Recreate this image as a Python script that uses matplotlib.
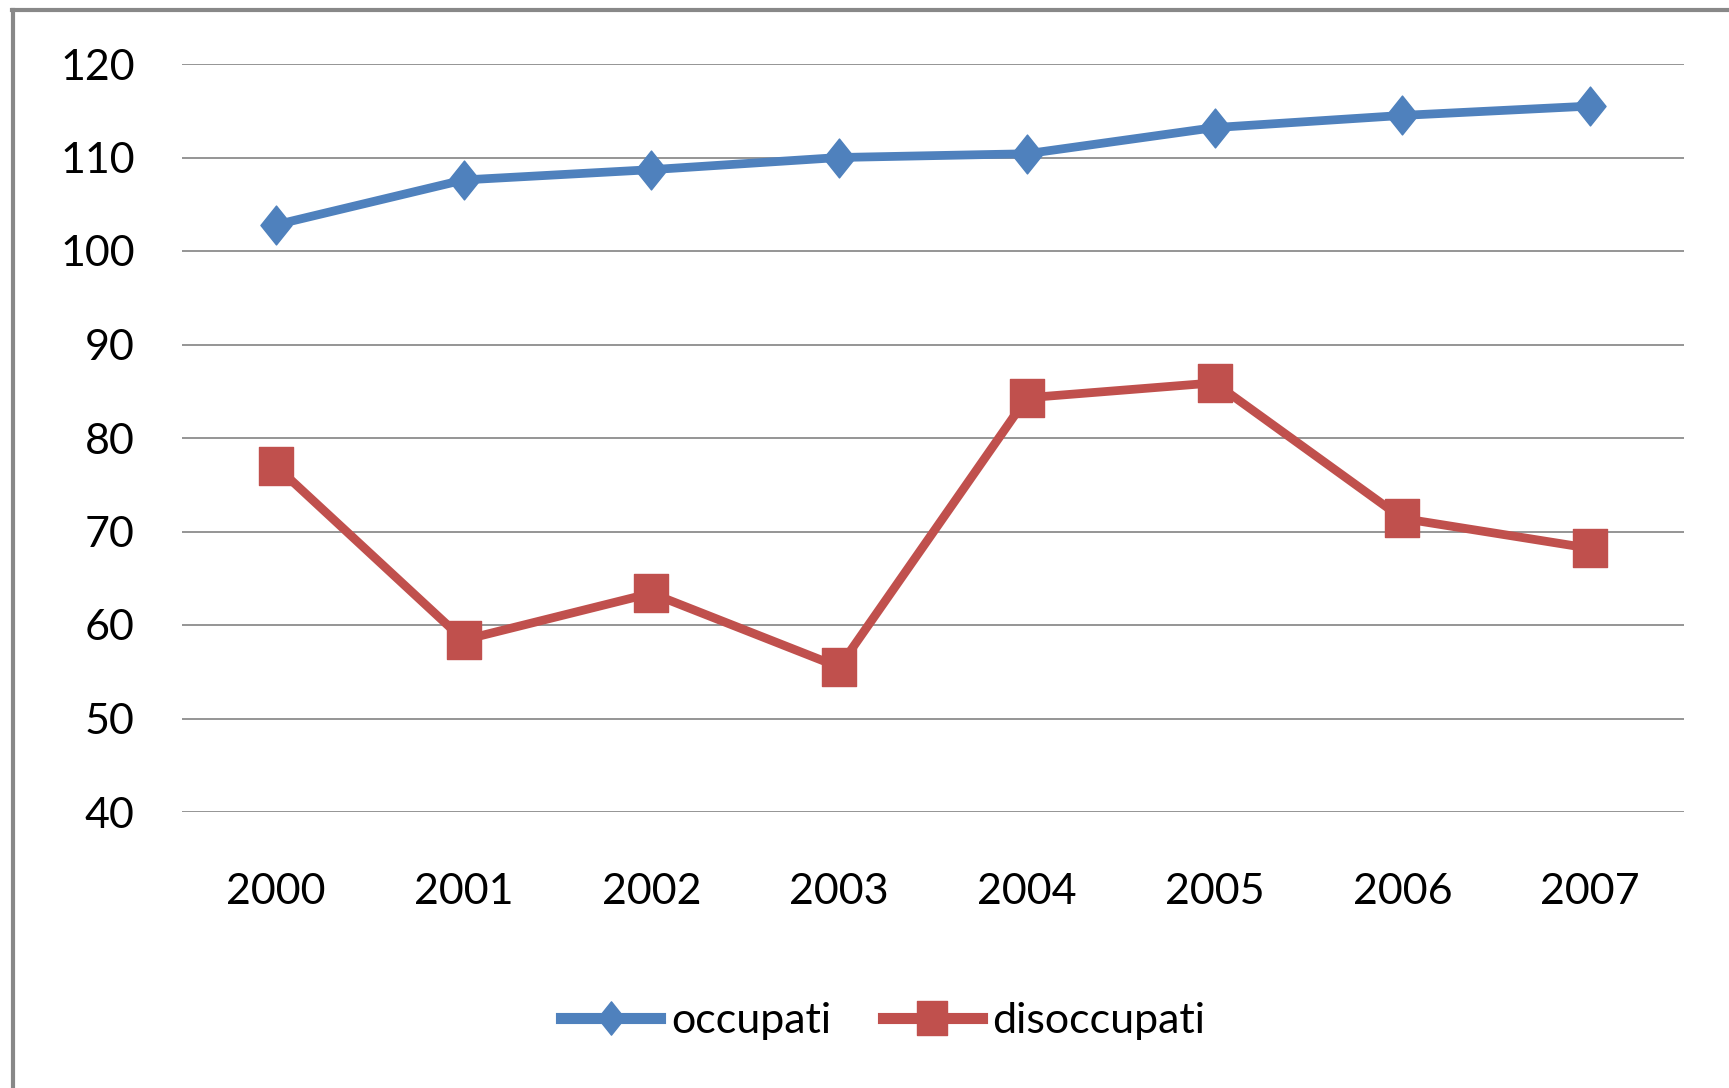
import matplotlib.pyplot as plt
from matplotlib.lines import Line2D
from matplotlib.path import Path

# dati
anni = ["2000", "2001", "2002", "2003", "2004", "2005", "2006", "2007"]
occupati = [102.8, 107.6, 108.7, 110.0, 110.4, 113.2, 114.5, 115.5]
disoccupati = [77.0, 58.4, 63.4, 55.5, 84.3, 85.9, 71.4, 68.2]
yticks = [40, 50, 60, 70, 80, 90, 100, 110, 120]

blu = "#4F81BD"
rosso = "#C0504D"
grigio = "#8C8C8C"

# marcatori un po' allungati in verticale, come nell'originale
codes = [Path.MOVETO, Path.LINETO, Path.LINETO, Path.LINETO, Path.CLOSEPOLY]
rombo = Path([(0, 1), (0.8, 0), (0, -1), (-0.8, 0), (0, 1)], codes)
quadrato = Path([(-0.92, -1), (0.92, -1), (0.92, 1), (-0.92, 1), (-0.92, -1)], codes)

fig = plt.figure(figsize=(17.29, 10.88), dpi=100)
ax = fig.add_axes([182 / 1729, 1 - 812 / 1088, (1684 - 182) / 1729, (812 - 64) / 1088])

x = range(len(anni))
ax.plot(x, occupati, color=blu, lw=6.3, marker=rombo, ms=28, mec=blu, zorder=3)
ax.plot(x, disoccupati, color=rosso, lw=6.3, marker=quadrato, ms=27, mec=rosso, zorder=3)

ax.set_xlim(-0.5, len(anni) - 0.5)
ax.set_ylim(40, 120)
ax.set_yticks(yticks)
ax.set_xticks(list(x))
ax.set_xticklabels(anni)
ax.yaxis.grid(True, color=grigio, lw=1.3)
ax.set_axisbelow(True)
for s in ax.spines.values():
    s.set_visible(False)
ax.tick_params(length=0, labelsize=31, colors="black")
ax.tick_params(axis="x", pad=44)
ax.tick_params(axis="y", pad=34)
for t in ax.get_xticklabels() + ax.get_yticklabels():
    t.set_family(["Lato", "DejaVu Sans"])

# cornice del grafico (tagliata a destra e in basso)
fig.add_artist(Line2D([13 / 1729, 13 / 1729], [0, 1 - 10 / 1088], color="#888888", lw=3))
fig.add_artist(Line2D([11.5 / 1729, 1], [1 - 10 / 1088, 1 - 10 / 1088], color="#888888", lw=3))

handles = [
    Line2D([], [], color=blu, lw=8, marker=rombo, ms=24, mec=blu),
    Line2D([], [], color=rosso, lw=8, marker=quadrato, ms=24, mec=rosso),
]
fig.legend(handles, ["occupati", "disoccupati"], ncol=2, frameon=False,
           loc="center left", bbox_to_anchor=(561 / 1729, 1 - 1021 / 1088),
           borderpad=0, borderaxespad=0, handlelength=2.3, handletextpad=0.25,
           columnspacing=1.2,
           prop={"family": ["Lato", "DejaVu Sans"], "size": 31})

fig.savefig("out.png", dpi=100, facecolor="white")
